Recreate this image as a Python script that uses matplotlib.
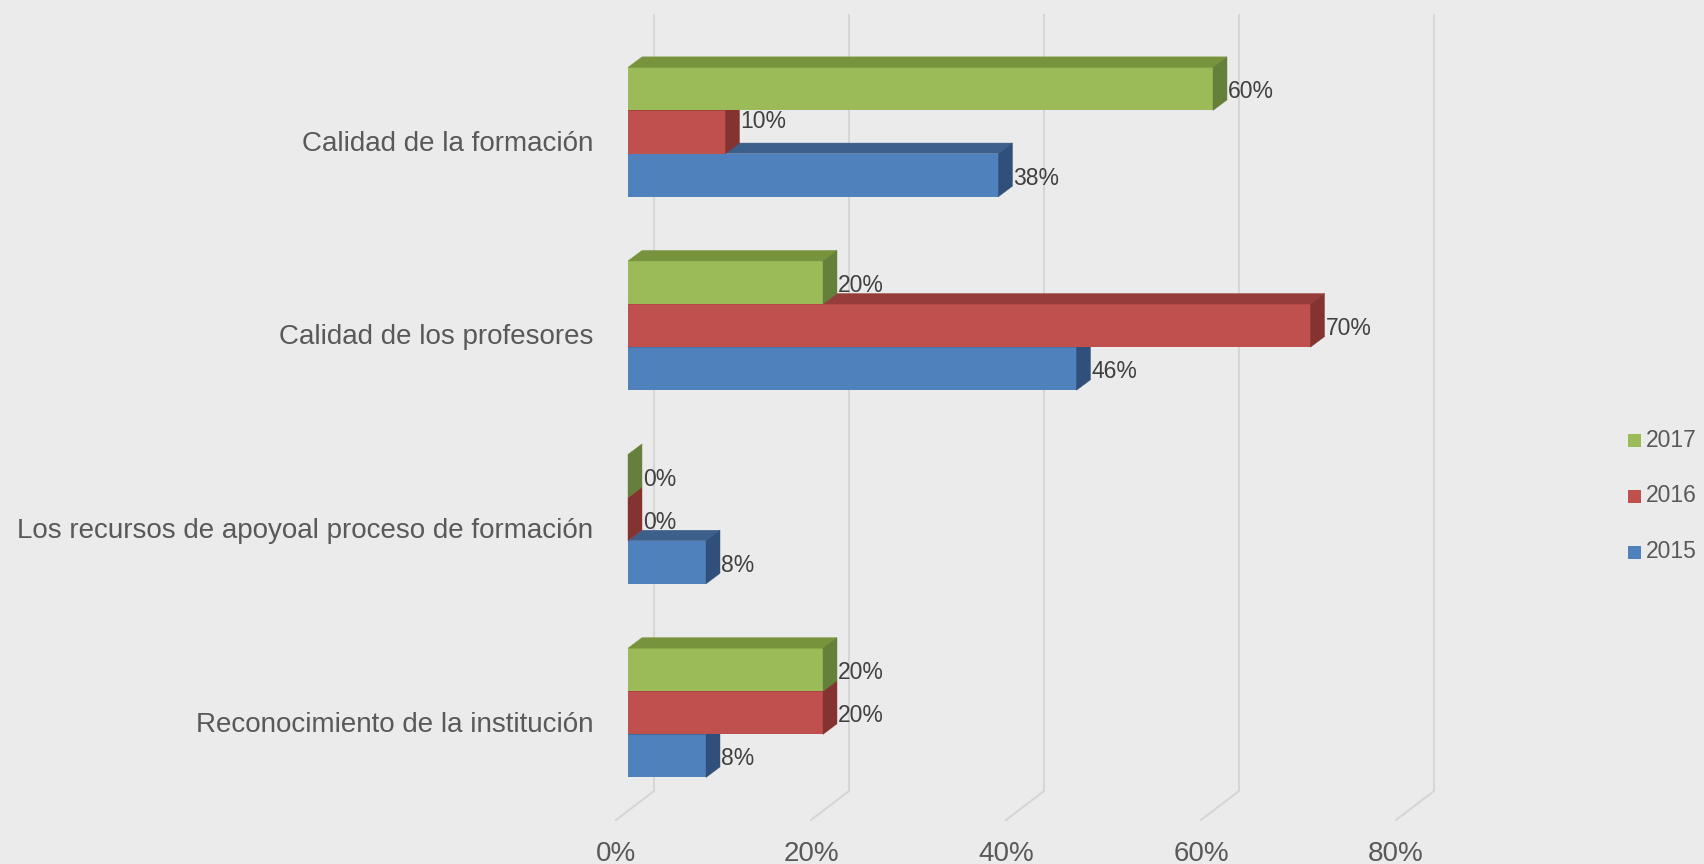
import numpy as np
import matplotlib.pyplot as plt
from matplotlib.patches import Polygon, Rectangle

plt.rcParams['font.family'] = ['Liberation Sans', 'DejaVu Sans']

# Data
categories = ["Calidad de la formación", "Calidad de los profesores",
              "Los recursos de apoyoal proceso de formación",
              "Reconocimiento de la institución"]
years = ["2017", "2016", "2015"]
vals_2017 = [60, 20, 0, 20]
vals_2016 = [10, 70, 0, 20]
vals_2015 = [38, 46, 8, 8]
xticks = [0, 20, 40, 60, 80]

# colours: front, top, side
cols = {
    "2017": ("#9BBB59", "#77933C", "#65803A"),
    "2016": ("#C0504D", "#963C3A", "#843331"),
    "2015": ("#4F81BD", "#3C5F8C", "#30507B"),
}
bg = "#EBEBEB"
txt = "#595959"

W, H = 1704, 864
fig = plt.figure(figsize=(W / 100, H / 100), dpi=100, facecolor=bg)

# axes geometry in pixels
x0_px = 628.0
px_pct = 9.75
xmax = 80
y0_px = 132.0
px_cat = 193.6
left = x0_px / W
width = xmax * px_pct / W
top_px = y0_px - 0.5 * px_cat
bot_px = y0_px + 3.5 * px_cat
ax = fig.add_axes([left, 1 - bot_px / H, width, (bot_px - top_px) / H])
ax.set_xlim(0, xmax)
ax.set_ylim(3.5, -0.5)
ax.axis("off")
ax.set_facecolor(bg)


def dx(px):
    return px / px_pct


def dy(px):
    return px / px_cat


# back wall gridlines + floor lines
for v in xticks:
    xs = [v + dx(26), v + dx(26), v - dx(12)]
    ys = [dy(15 - y0_px), dy(791 - y0_px), dy(820 - y0_px)]
    ax.plot(xs, ys, color="#D6D6D6", lw=1.5, zorder=1, clip_on=False,
            solid_joinstyle="miter")
    ax.text(v - dx(12), dy(861 - y0_px), f"{v}%", ha="center", va="baseline",
            fontsize=20, color=txt, clip_on=False)

h = 43.1 / px_cat
ddx, ddy = dx(14), dy(10.5)
pos = np.arange(len(categories))

# the 2016 label of the first group sits higher in the original
label_nudge = {("2016", 0): -13}

series = [("2015", vals_2015, h, 3), ("2016", vals_2016, 0, 4), ("2017", vals_2017, -h, 5)]
for name, vals, off, z in series:
    front, topc, side = cols[name]
    ys = pos + off
    ax.barh(ys, vals, height=h, color=front, lw=0, zorder=z)
    for i, (yc, v) in enumerate(zip(ys, vals)):
        yt, yb = yc - h / 2, yc + h / 2
        ax.add_patch(Polygon([(0, yt), (v, yt), (v + ddx, yt - ddy), (ddx, yt - ddy)],
                             closed=True, fc=topc, ec=topc, lw=0.3, zorder=z, clip_on=False))
        ax.add_patch(Polygon([(v, yt), (v, yb), (v + ddx, yb - ddy), (v + ddx, yt - ddy)],
                             closed=True, fc=side, ec=side, lw=0.3, zorder=z, clip_on=False))
        ny = label_nudge.get((name, i), 0)
        ax.text(v + ddx + dx(1), yc + dy(9.5 + ny), f"{v}%", ha="left", va="baseline",
                fontsize=16.5, color="#404040", zorder=10, clip_on=False)

# category labels
for i, c in enumerate(categories):
    ax.text(-dx(35), i + dy(18.7), c, ha="right", va="baseline",
            fontsize=20, color=txt, clip_on=False)

# legend
for k, name in enumerate(years):
    yc = 440 + k * 56
    fig.patches.append(Rectangle((1628 / W, 1 - (yc + 6.5) / H), 13 / W, 13 / H,
                                 transform=fig.transFigure, fc=cols[name][0], lw=0))
    fig.text(1646 / W, 1 - yc / H, name, ha="left", va="center",
             fontsize=16.5, color=txt)

fig.savefig("out.png", dpi=100, facecolor=bg)
